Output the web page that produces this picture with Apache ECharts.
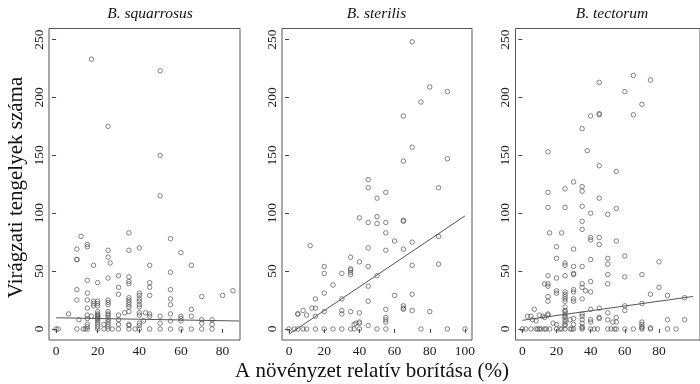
<!DOCTYPE html>
<html><head><meta charset="utf-8">
<script src="https://cdn.jsdelivr.net/npm/echarts@6/dist/echarts.min.js"></script>
<style>html,body{margin:0;padding:0;background:#fff}#c{width:700px;height:384px}</style>
</head><body><div id="c"></div>
<script>
const panelTitles = ['B. squarrosus', 'B. sterilis', 'B. tectorum'];
const yTitle = 'Virágzati tengelyek száma';
const xTitle = 'A növényzet relatív borítása (%)';
const yTicks = [0, 50, 100, 150, 200, 250];
const xTicks1 = [0, 20, 40, 60, 80];
const xTicks2 = [0, 20, 40, 60, 80, 100];
const xTicks3 = [0, 20, 40, 60, 80];

// B. squarrosus
const sqX = [0,1,17,50,25,50,50,12,10,10,10,10,10,10,15,15,15,15,15,15,15,15,15,15,15,13,14,18,18,18,18,
  20,20,20,20,20,20,20,20,20,20,20,20,20,20,20,17,23,23,
  25,25,25,25,25,25,25,25,25,25,25,25,25,25,25,26,27,
  30,30,30,30,30,30,30,33,
  35,35,35,35,35,35,35,35,35,35,35,35,35,35,38,
  40,40,40,40,40,40,40,40,40,40,40,40,42,43,
  45,45,45,45,45,45,45,50,50,50,
  55,55,55,55,55,55,55,55,60,60,60,60,60,65,65,65,65,70,70,70,70,75,75,75,80,85,6,11];
const sqY = [0,0,233,223,175,150,115,80,69,60,60,34,25,0,73,71,42,31,25,18,12,9,4,2,0,0,0,55,24,22,20,
  40,24,22,20,15,13,12,11,10,9,8,6,4,2,0,11,4,0,
  68,62,44,25,23,21,15,13,12,10,8,6,4,2,0,57,0,
  46,36,30,12,8,4,0,14,
  83,68,45,41,39,27,25,23,21,19,15,4,3,0,0,
  70,31,29,26,24,21,19,14,12,5,3,0,7,14,
  55,40,36,29,13,11,0,11,5,0,
  78,49,34,26,21,13,7,0,66,11,9,7,0,55,17,11,0,28,8,5,0,8,4,0,29,33,13,8];

// B. sterilis
const stX = [70,80,90,75,65,70,65,90,45,45,85,55,50,40,50,45,50,55,65,65,
  55,60,70,12,45,85,55,65,35,40,70,85,20,35,35,35,35,45,20,30,50,25,45,20,30,60,70,15,45,65,65,65,13,15,8,20,30,30,35,40,55,70,80,5,5,10,15,55,55,55,37,38,40,40,45,
  0,3,5,8,10,15,20,25,30,35,37,40,50,55,75,90,100];
const stY = [248,209,205,196,184,157,145,147,129,122,122,118,113,96,97,92,91,92,94,93,
  83,76,75,72,70,80,68,69,62,58,55,56,54,52,51,49,47,54,48,48,46,38,37,31,26,29,30,26,24,20,18,17,18,18,16,15,16,13,15,14,17,16,15,13,13,12,11,10,8,6,4,5,5,6,3,
  0,0,0,0,0,0,0,0,0,0,0,0,0,0,0,0,0];

// B. tectorum
const teX = [65,75,45,60,70,45,45,65,40,35,15,38,45,55,30,35,35,15,25,45,15,25,35,40,50,55,35,35,16,23,
  40,40,45,45,55,20,30,20,40,25,25,30,35,50,50,60,80,15,20,25,30,30,40,50,60,70,13,15,15,35,35,37,40,50,20,20,25,25,30,30,15,15,25,25,25,30,30,35,75,80,85,25,50,60,60,70,7,40,45,95,
  3,5,6,8,10,12,13,15,15,18,20,25,25,25,25,25,25,25,25,25,28,30,30,35,35,35,35,35,35,40,40,45,45,50,53,55,55,70,70,70,70,75,85,95,
  0,2,5,8,9,10,11,13,14,16,20,22,23,25,28,29,30,35,40,42,44,50,52,54,55,60,65,70,75,85,90];
const teY = [219,215,213,205,194,186,185,185,184,173,153,154,141,136,127,123,119,118,121,113,105,105,106,100,99,104,93,86,83,83,
  79,77,79,73,76,71,69,61,60,57,55,54,54,61,56,63,58,46,44,46,48,47,41,47,45,47,39,39,37,39,36,33,32,39,33,31,32,30,34,32,28,24,28,26,24,26,24,26,30,36,29,19,14,20,16,22,17,17,18,27,
  11,11,8,7,12,11,10,13,12,5,4,16,15,13,11,10,8,6,4,3,8,9,4,13,11,8,5,2,1,8,6,10,9,8,6,10,6,6,4,2,1,1,8,8,
  0,0,0,0,0,0,0,0,0,0,0,0,0,0,0,0,0,0,0,0,0,0,0,0,0,0,0,0,0,0,0];

// fitted regression lines (end points)
const fitSqX = [0, 88], fitSqY = [9.7, 6.9];
const fitStX = [0, 100], fitStY = [-4.5, 97.7];
const fitTeX = [0, 100], fitTeY = [7.5, 28.1];

const pairs = (xs, ys) => xs.map((v, i) => [v, ys[i]]);
const serif = '"Liberation Serif", "DejaVu Serif", serif';

const grids = [
  {left: 49, top: 28.5, width: 191, height: 311.5},
  {left: 282, top: 28.5, width: 190, height: 311.5},
  {left: 515.5, top: 28.5, width: 200, height: 311.5}
].map(g => Object.assign({show: true, borderColor: '#555', borderWidth: 1, backgroundColor: 'transparent'}, g));

const xRanges = [[-3.4, 88.4], [-4, 104], [-4, 104]];
const xTickSets = [xTicks1, xTicks2, xTicks3];

const xAxes = xRanges.map((r, i) => ({
  type: 'value', gridIndex: i, min: r[0], max: r[1],
  axisLine: {show: false},
  axisTick: {show: true, length: 4, customValues: xTickSets[i], lineStyle: {color: '#444', width: 1}},
  axisLabel: {customValues: xTickSets[i], fontFamily: serif, fontSize: 13.5, color: '#222', margin: 4},
  splitLine: {show: false}
}));
const yAxes = [0, 1, 2].map(i => ({
  type: 'value', gridIndex: i, min: -9.5, max: 259.5,
  axisLine: {show: false},
  axisTick: {show: true, length: 4, customValues: yTicks, lineStyle: {color: '#444', width: 1}},
  axisLabel: {customValues: yTicks, fontFamily: serif, fontSize: 13.5, color: '#222', rotate: 90, margin: 3},
  splitLine: {show: false}
}));

const scatterData = [pairs(sqX, sqY), pairs(stX, stY), pairs(teX, teY)];
const fitData = [pairs(fitSqX, fitSqY), pairs(fitStX, fitStY), pairs(fitTeX, fitTeY)];

const series = [];
[0, 1, 2].forEach(i => {
  series.push({
    type: 'scatter', xAxisIndex: i, yAxisIndex: i, data: scatterData[i],
    symbol: 'circle', symbolSize: 4.5, silent: true,
    itemStyle: {color: 'rgba(0,0,0,0)', borderColor: '#555', borderWidth: 0.9}
  });
  series.push({
    type: 'line', xAxisIndex: i, yAxisIndex: i, data: fitData[i],
    showSymbol: false, silent: true, clip: true,
    lineStyle: {color: '#555', width: 1}
  });
});

const titleX = [150, 376.5, 612];
const graphic = panelTitles.map((t, i) => ({
  type: 'text', x: titleX[i], y: 14, silent: true,
  style: {text: t, font: 'italic 15.5px ' + serif, fill: '#111', align: 'center', verticalAlign: 'middle', textAlign: 'center', textVerticalAlign: 'middle'}
}));
graphic.push({
  type: 'text', x: 16, y: 187.5, rotation: Math.PI / 2, silent: true,
  style: {text: yTitle, font: '21px ' + serif, fill: '#111', align: 'center', verticalAlign: 'middle', textAlign: 'center', textVerticalAlign: 'middle'}
});
graphic.push({
  type: 'text', x: 372, y: 371, silent: true,
  style: {text: xTitle, font: '21px ' + serif, fill: '#111', align: 'center', verticalAlign: 'middle', textAlign: 'center', textVerticalAlign: 'middle'}
});

const chart = echarts.init(document.getElementById('c'), null, {renderer: 'canvas'});
chart.setOption({
  animation: false,
  backgroundColor: '#fff',
  grid: grids,
  xAxis: xAxes,
  yAxis: yAxes,
  series: series,
  graphic: graphic
});
</script>
</body></html>
